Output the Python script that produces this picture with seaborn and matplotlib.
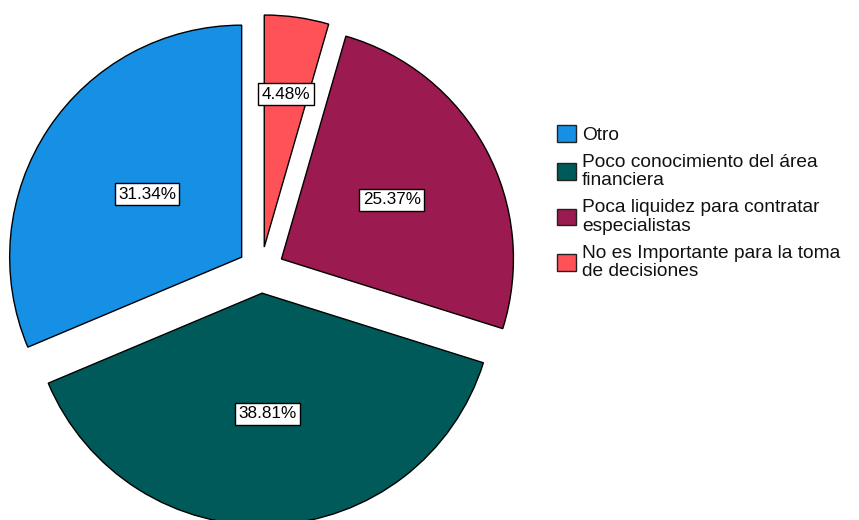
import matplotlib
matplotlib.use("Agg")
import matplotlib.pyplot as plt
import matplotlib.patches as mpatches
import numpy as np
import seaborn as sns

# Reasons given for not using financial information
categories = [
    "Otro",
    "Poco conocimiento del área\nfinanciera",
    "Poca liquidez para contratar\nespecialistas",
    "No es Importante para la toma\nde decisiones",
]
percentages = [31.34, 38.81, 25.37, 4.48]
slice_colors = ["#1590e4", "#005a5a", "#9b1a4f", "#ff5158"]

# Radial position of each percentage box (fraction of radius)
label_radius = [0.49, 0.52, 0.54, 0.665]

sns.set_theme(style="white")
plt.rcParams["font.family"] = ["Liberation Sans", "DejaVu Sans"]

W, H = 859, 520
fig = plt.figure(figsize=(W / 100, H / 100), dpi=100)
fig.patch.set_facecolor("white")

# Pie occupies the left part of the canvas; 1 data unit = 232 px
ax = fig.add_axes([0, 0, 530 / W, 1])
R = 232.0
cx, cy = 261.0, 270.0  # pie centre in pixels from top-left

wedges, _ = ax.pie(
    percentages,
    colors=slice_colors,
    startangle=90,
    counterclock=True,
    explode=[0.1] * len(percentages),
    radius=1.0,
    wedgeprops=dict(edgecolor="black", linewidth=1.0),
)

ax.set_aspect("auto")
ax.set_xlim(-cx / R, (530 - cx) / R)
ax.set_ylim(-(H - cy) / R, cy / R)
ax.axis("off")

for w, pct, lr in zip(wedges, percentages, label_radius):
    mid = np.deg2rad((w.theta1 + w.theta2) / 2)
    x0, y0 = w.center
    ax.text(
        x0 + lr * np.cos(mid),
        y0 + lr * np.sin(mid),
        f"{pct:.2f}%",
        ha="center",
        va="center",
        fontsize=12.3,
        color="black",
        bbox=dict(boxstyle="square,pad=0.2", facecolor="white",
                  edgecolor="black", linewidth=1.0),
    )

handles = [
    mpatches.Patch(facecolor=c, edgecolor="#222222", linewidth=1.0, label=l)
    for c, l in zip(slice_colors, categories)
]
leg = fig.legend(
    handles=handles,
    loc="upper left",
    bbox_to_anchor=(557 / W, 1 - 125 / H),
    bbox_transform=fig.transFigure,
    frameon=False,
    fontsize=13.8,
    handlelength=1.0,
    handleheight=0.95,
    handletextpad=0.3,
    labelspacing=0.52,
    borderpad=0,
    borderaxespad=0,
)
for t in leg.get_texts():
    t.set_linespacing(1.12)
    t.set_color("#111111")

fig.savefig("out.png", dpi=100, facecolor="white")
